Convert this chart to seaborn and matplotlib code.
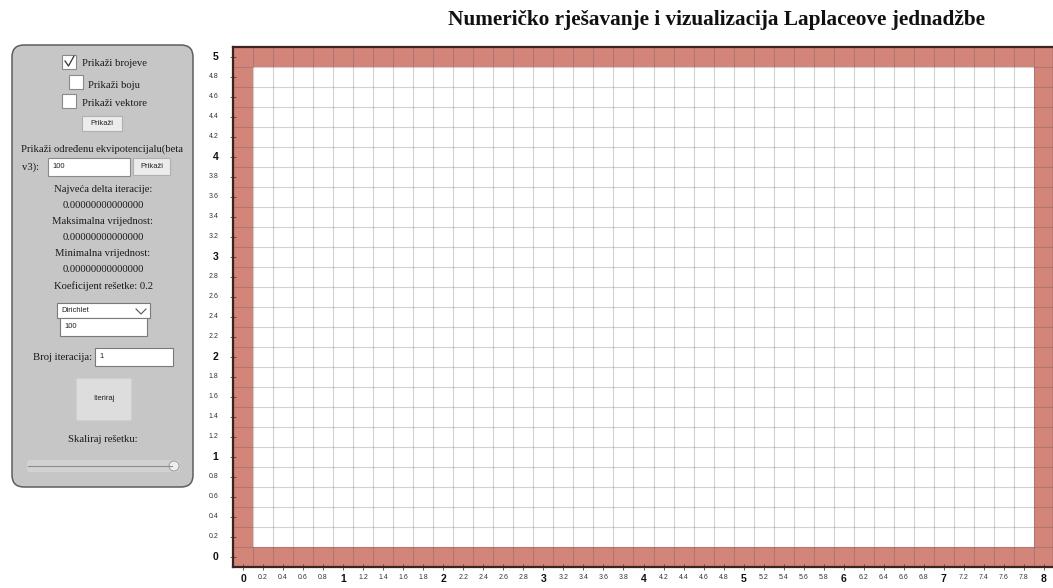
import matplotlib
matplotlib.use("Agg")
import matplotlib.pyplot as plt
from matplotlib.patches import FancyBboxPatch, Rectangle, Circle
from matplotlib.colors import ListedColormap
import numpy as np
import seaborn as sns

# grid nodes (step 0.2) and the Dirichlet boundary value shown in the panel
x_labels = ["0", "0.2", "0.4", "0.6", "0.8", "1", "1.2", "1.4", "1.6", "1.8",
            "2", "2.2", "2.4", "2.6", "2.8", "3", "3.2", "3.4", "3.6", "3.8",
            "4", "4.2", "4.4", "4.6", "4.8", "5", "5.2", "5.4", "5.6", "5.8",
            "6", "6.2", "6.4", "6.6", "6.8", "7", "7.2", "7.4", "7.6", "7.8", "8"]
y_labels = ["5", "4.8", "4.6", "4.4", "4.2", "4", "3.8", "3.6", "3.4", "3.2",
            "3", "2.8", "2.6", "2.4", "2.2", "2", "1.8", "1.6", "1.4", "1.2",
            "1", "0.8", "0.6", "0.4", "0.2", "0"]
boundary_value = 100
interior_value = 0

grid = np.full((len(y_labels), len(x_labels)), interior_value, dtype=float)
grid[0, :] = boundary_value
grid[-1, :] = boundary_value
grid[:, 0] = boundary_value
grid[:, -1] = boundary_value

W, H = 1053, 588
fig = plt.figure(figsize=(W / 100, H / 100), dpi=100)

# overlay axes in pixel coordinates for the control panel
ui = fig.add_axes([0, 0, 1, 1])
ui.set_xlim(0, W)
ui.set_ylim(H, 0)
ui.axis("off")

ax = fig.add_axes([233 / W, (H - 567) / H, 821 / W, 520 / H])
sns.heatmap(grid, ax=ax, cmap=ListedColormap(["white", "#d4857a"]), vmin=0, vmax=100,
            cbar=False, linewidths=0, xticklabels=x_labels, yticklabels=y_labels,
            square=False)

# cell borders as a translucent grid so they darken the red cells too
ax.set_xticks(np.arange(len(x_labels) + 1), minor=True)
ax.set_yticks(np.arange(len(y_labels) + 1), minor=True)
ax.grid(which="minor", color="#4d4d4d", alpha=0.25, linewidth=0.8)
ax.grid(which="major", visible=False)
ax.set_axisbelow(False)
ax.tick_params(which="minor", length=0)

for s in ax.spines.values():
    s.set_visible(True)
    s.set_color("#3b2420")
    s.set_linewidth(1.6)
    s.set_zorder(5)
ax.tick_params(axis="both", which="major", direction="inout", length=5, width=0.6,
               color="#444444")
ax.tick_params(axis="y", pad=8, rotation=0)
ax.tick_params(axis="x", pad=2.5, rotation=0)
for lab in ax.get_xticklabels() + ax.get_yticklabels():
    lab.set_family("Liberation Sans")
    if "." in lab.get_text():
        lab.set_fontsize(5)
        lab.set_color("#333333")
    else:
        lab.set_fontsize(7.5)
        lab.set_fontweight("bold")
        lab.set_color("#111111")

fig.text(717 / W, 1 - 20 / H, "Numeričko rješavanje i vizualizacija Laplaceove jednadžbe",
         ha="center", va="center", fontsize=15.3, fontweight="bold",
         family="Liberation Serif", color="#111111")

# control panel
ui.add_patch(FancyBboxPatch((12, 45), 181, 442, boxstyle="round,pad=0,rounding_size=12",
                            facecolor="#c6c6c6", edgecolor="#5e5e5e", linewidth=1.1))

serif = dict(family="Liberation Serif", fontsize=7.7, color="#1a1a1a")
sans = dict(family="Liberation Sans", fontsize=5.5, color="#222222")


def box(x0, y0, w, h, fc="white", ec="#8a8a8a"):
    ui.add_patch(Rectangle((x0, y0), w, h, facecolor=fc, edgecolor=ec, linewidth=0.8))


box(62, 55, 14, 14)
ui.plot([65, 68.5, 74], [61, 66, 56], color="#333333", linewidth=0.9)
ui.text(82, 64, "Prikaži brojeve", va="center", **serif)
box(69, 75, 14, 14)
ui.text(88, 85, "Prikaži boju", va="center", **serif)
box(62, 94, 14, 14)
ui.text(82, 104, "Prikaži vektore", va="center", **serif)
box(82, 116, 40, 15, fc="#ececec", ec="#b0b0b0")
ui.text(102, 123.5, "Prikaži", ha="center", va="center", **sans)

ui.text(102, 149, "Prikaži određenu ekvipotencijalu(beta", ha="center", va="center", **serif)
ui.text(22, 167, "v3):", va="center", **serif)
box(48, 158, 82, 18)
ui.text(52, 167, "100", va="center", **sans)
box(133, 158, 37, 17, fc="#ececec", ec="#b0b0b0")
ui.text(151.5, 166.5, "Prikaži", ha="center", va="center", **sans)

info = ["Najveća delta iteracije:", "0.00000000000000", "Maksimalna vrijednost:",
        "0.00000000000000", "Minimalna vrijednost:", "0.00000000000000",
        "Koeficijent rešetke: 0.2"]
for i, t in enumerate(info):
    ui.text(103, 189 + i * 16.2, t, ha="center", va="center", **serif)

box(57, 303, 93, 15, ec="#7a7a7a")
ui.text(61, 310.5, "Dirichlet", va="center", **sans)
ui.plot([136, 141, 146], [309, 314, 309], color="#555555", linewidth=0.8)
box(60, 318, 87, 18, ec="#7a7a7a")
ui.text(64, 327, "100", va="center", **sans)

ui.text(33, 357, "Broj iteracija:", va="center", **serif)
box(95, 348, 78, 18, ec="#7a7a7a")
ui.text(99, 357, "1", va="center", **sans)

box(76, 378, 55, 42, fc="#dddddd", ec="#cfcfcf")
ui.text(103.5, 399, "Iteriraj", ha="center", va="center", **sans)

ui.text(103, 439, "Skaliraj rešetku:", ha="center", va="center", **serif)
ui.add_patch(FancyBboxPatch((27, 460), 153, 12, boxstyle="round,pad=0,rounding_size=3",
                            facecolor="#d2d2d2", edgecolor="none"))
ui.plot([28, 172], [466, 466], color="#8c8c8c", linewidth=0.8)
ui.add_patch(Circle((174, 466), 5, facecolor="#eeeeee", edgecolor="#9a9a9a", linewidth=0.7))

fig.savefig("out.png", dpi=100)
